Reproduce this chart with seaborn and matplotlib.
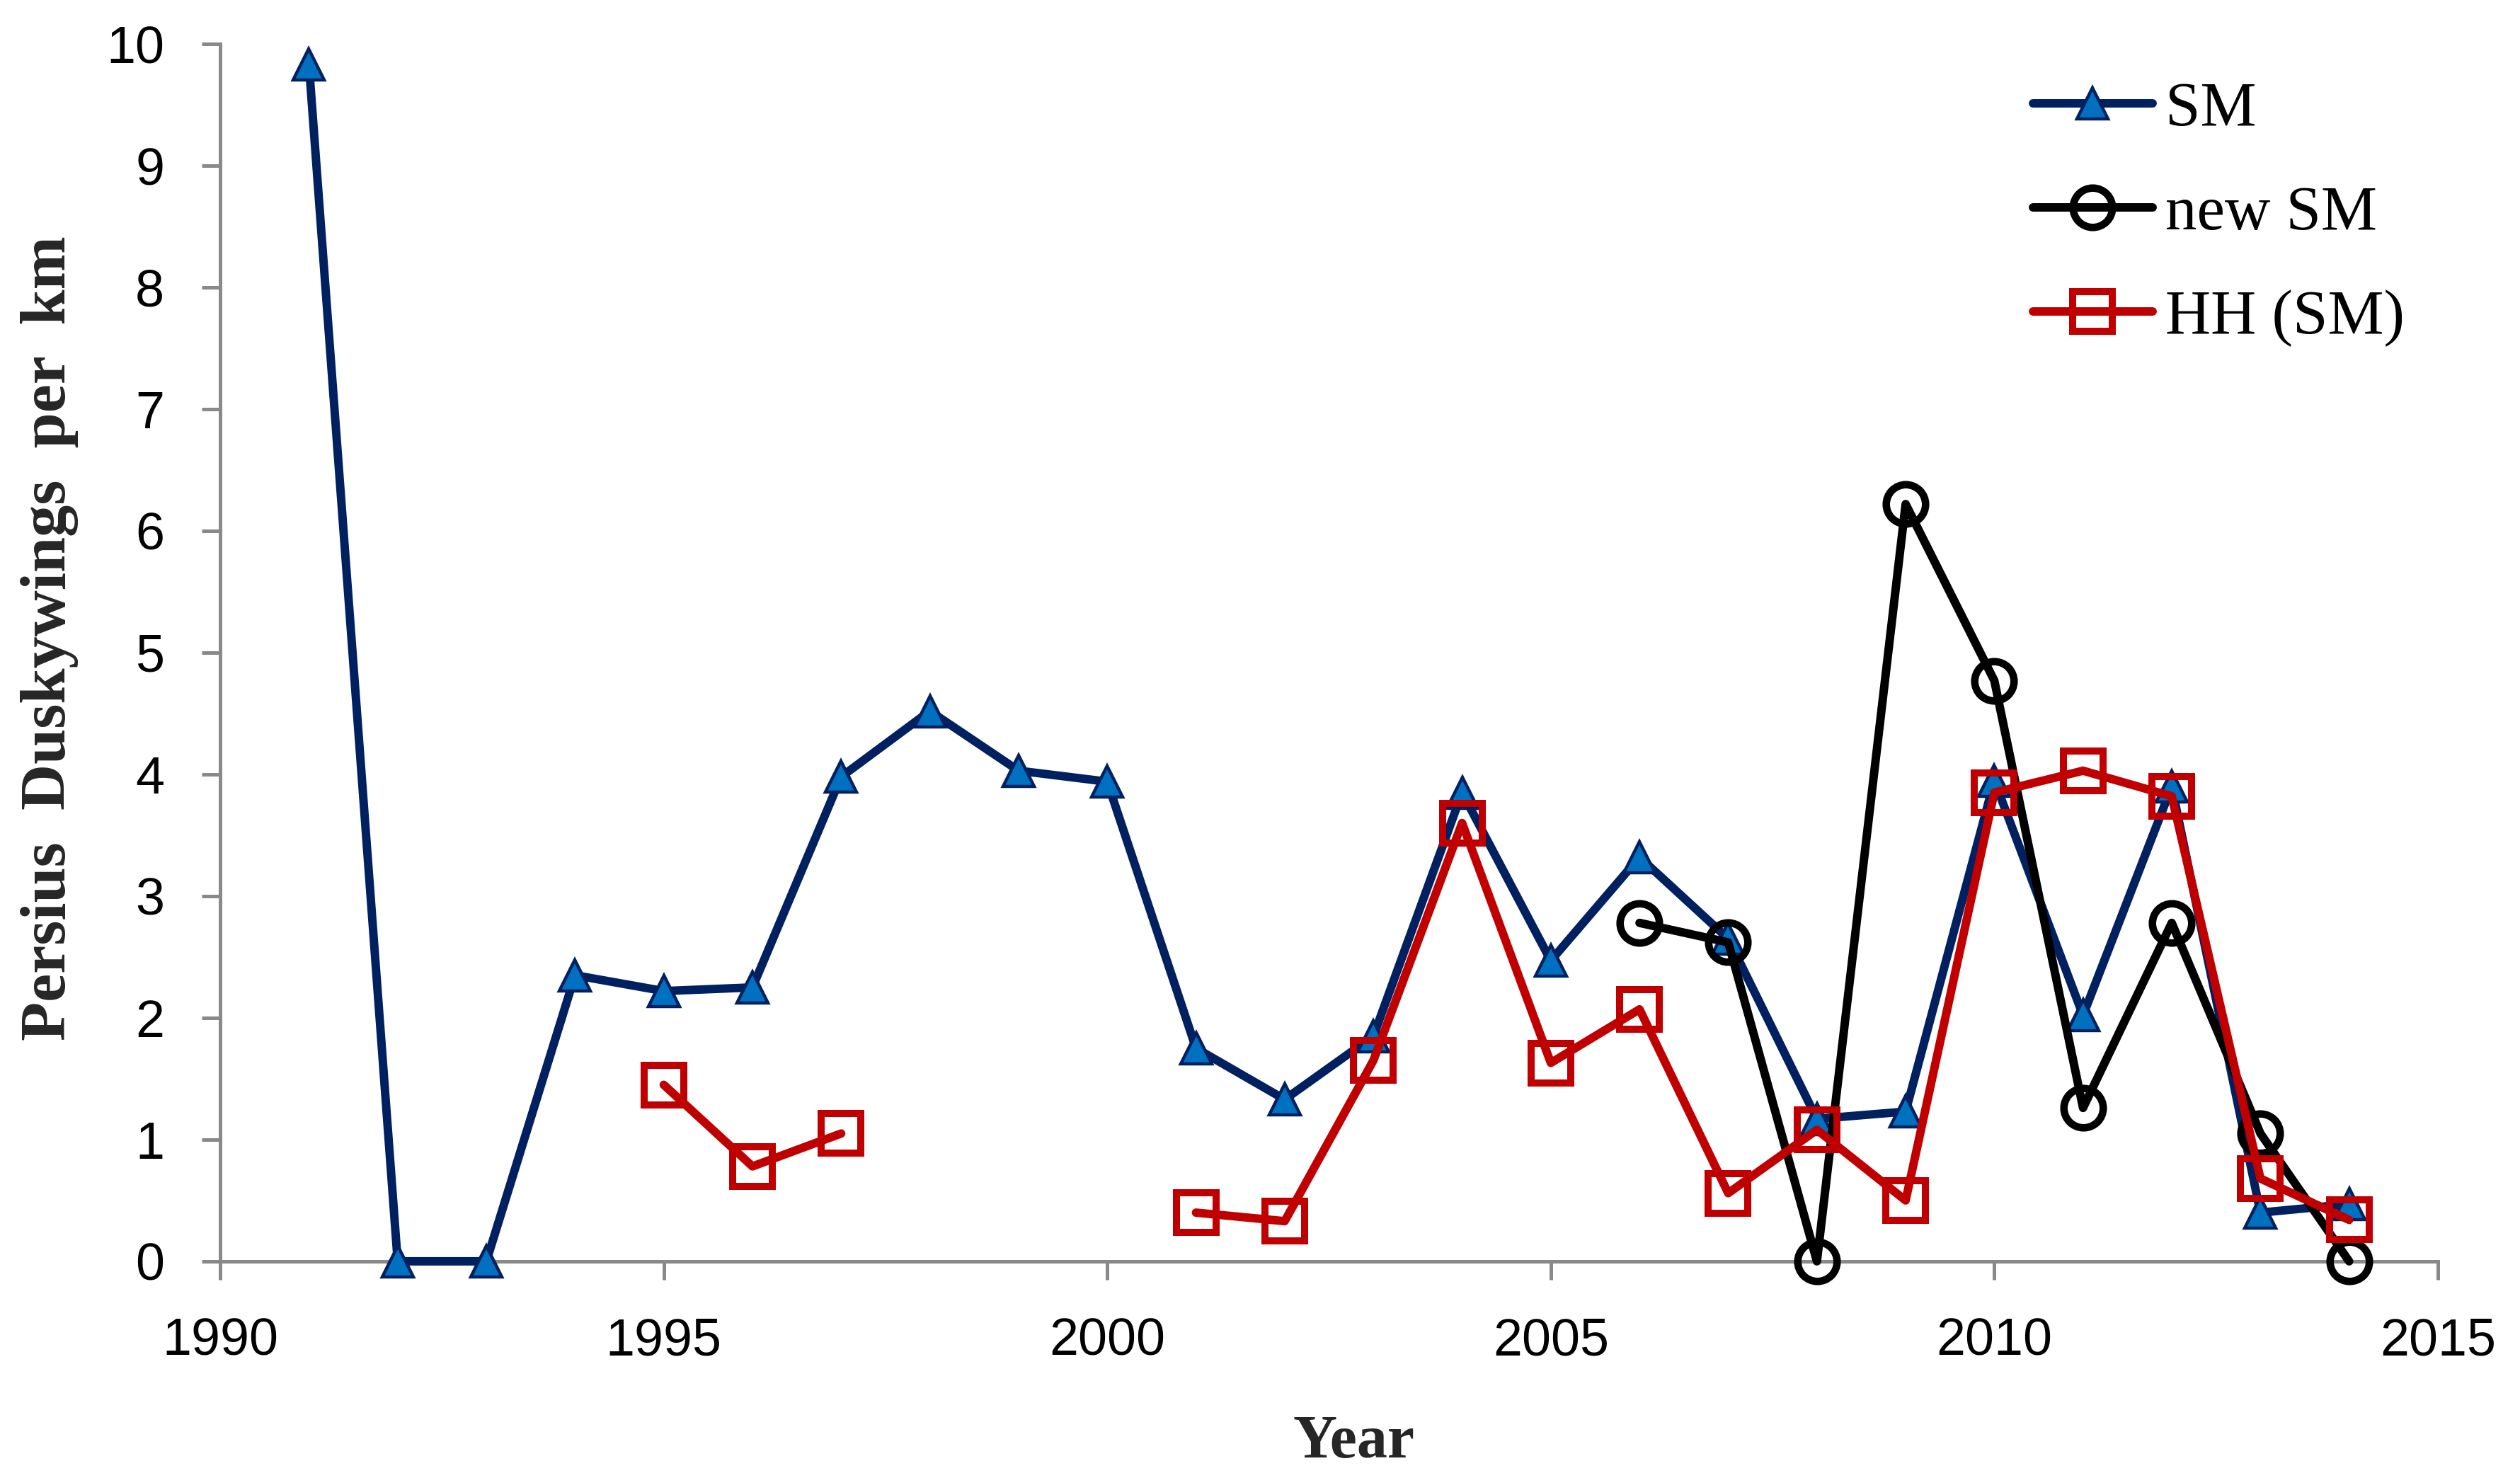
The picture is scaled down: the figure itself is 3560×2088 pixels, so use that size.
import numpy as np
import pandas as pd
import matplotlib
matplotlib.use("Agg")
import matplotlib.pyplot as plt
from matplotlib.lines import Line2D
import seaborn as sns

years = list(range(1991, 2015))
sm = [9.83, 0, 0, 2.35, 2.22, 2.25, 3.98, 4.52, 4.03, 3.94, 1.75, 1.33,
      1.85, 3.85, 2.47, 3.32, 2.65, 1.17, 1.23, 3.95, 2.02, 3.90, 0.40, 0.47]
new_years = list(range(2006, 2015))
new_sm = [2.78, 2.62, 0.0, 6.22, 4.77, 1.26, 2.78, 1.05, 0.0]
hh_years_a = [1995, 1996, 1997]
hh_a = [1.45, 0.78, 1.05]
hh_years_b = list(range(2001, 2015))
hh_b = [0.40, 0.33, 1.65, 3.60, 1.63, 2.07, 0.56, 1.08, 0.50, 3.85, 4.03, 3.82, 0.68, 0.34]
labels = ["SM", "new SM", "HH (SM)"]

sns.set_style("white")
plt.rcParams['font.family'] = ['Liberation Sans', 'DejaVu Sans']
plt.rcParams['text.color'] = 'black'
plt.rcParams['xtick.color'] = '#898989'
plt.rcParams['ytick.color'] = '#898989'
plt.rcParams['xtick.labelcolor'] = 'black'
plt.rcParams['ytick.labelcolor'] = 'black'

fig = plt.figure(figsize=(17.8, 10.44), dpi=200)
ax = fig.add_axes([0.0874, 0.1466, 0.8800, 0.8237])

navy = "#002060"
blue = "#0070C0"
red = "#C00000"
LW = 4.3

df_sm = pd.DataFrame({"Year": years, "v": sm})
df_new = pd.DataFrame({"Year": new_years, "v": new_sm})
df_hh = pd.DataFrame({"Year": hh_years_a + hh_years_b, "v": hh_a + hh_b,
                      "seg": [0] * len(hh_a) + [1] * len(hh_b)})

sm_style = dict(color=navy, lw=LW, marker="^", markersize=15.5,
                markerfacecolor=blue, markeredgecolor=navy, markeredgewidth=1.6)
new_style = dict(color="black", lw=LW, marker="o", markersize=20,
                 markerfacecolor="none", markeredgecolor="black",
                 markeredgewidth=3.8)
hh_style = dict(color=red, lw=LW, marker="s", markersize=20,
                markerfacecolor="none", markeredgecolor=red,
                markeredgewidth=3.6)

sns.lineplot(data=df_sm, x="Year", y="v", ax=ax, zorder=3, clip_on=False,
             **sm_style)
sns.lineplot(data=df_new, x="Year", y="v", ax=ax, zorder=4, clip_on=False,
             **new_style)
sns.lineplot(data=df_hh, x="Year", y="v", units="seg", estimator=None, ax=ax,
             zorder=5, clip_on=False, **hh_style)

ax.set_xlim(1990, 2015)
ax.set_ylim(0, 10)
ax.set_xticks([1990, 1995, 2000, 2005, 2010, 2015])
ax.set_yticks(range(0, 11))
for s in ["top", "right"]:
    ax.spines[s].set_visible(False)
for s in ["left", "bottom"]:
    ax.spines[s].set_color("#898989")
    ax.spines[s].set_linewidth(1.8)
    ax.spines[s].set_zorder(1)
ax.tick_params(axis="both", direction="out", length=9.4, width=1.8,
               labelsize=26.5, pad=19, bottom=True, left=True)
ax.set_xlabel("Year", family=["Liberation Serif"], fontweight="bold",
              fontsize=31)
ax.xaxis.set_label_coords(0.511, -0.126)
ax.set_ylabel("Persius  Duskywings  per  km", family=["Liberation Serif"],
              fontweight="bold", fontsize=32.5)
ax.yaxis.set_label_coords(-0.064, 0.512)

handles = [Line2D([], [], **sm_style), Line2D([], [], **new_style),
           Line2D([], [], **hh_style)]
ax.legend(handles, labels, loc="upper left",
          bbox_to_anchor=(0.8067, 0.945), bbox_transform=fig.transFigure,
          frameon=False, prop={"family": "Liberation Serif", "size": 32},
          handlelength=1.9, labelspacing=0.74, handletextpad=0.2,
          borderaxespad=0, borderpad=0)

fig.savefig("out.png", dpi=200)
